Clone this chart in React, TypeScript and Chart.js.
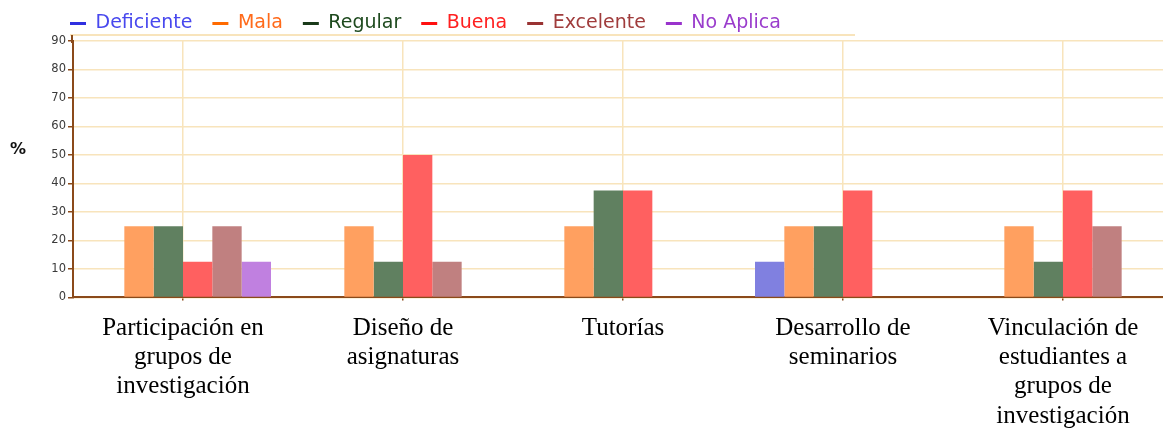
import React, { useEffect, useRef } from "react";
import { Chart, registerables } from "chart.js";

Chart.register(...registerables);

const categories: string[][] = [
  ["Participación en", "grupos de", "investigación"],
  ["Diseño de", "asignaturas"],
  ["Tutorías"],
  ["Desarrollo de", "seminarios"],
  ["Vinculación de", "estudiantes a", "grupos de", "investigación"],
];

const seriesNames = ["Deficiente", "Mala", "Regular", "Buena", "Excelente", "No Aplica"];

const deficiente = [0, 0, 0, 12.5, 0];
const mala = [25, 25, 25, 25, 25];
const regular = [25, 12.5, 37.5, 25, 12.5];
const buena = [12.5, 50, 37.5, 37.5, 37.5];
const excelente = [25, 12.5, 0, 0, 25];
const noAplica = [12.5, 0, 0, 0, 0];

const yMin = 0;
const yMax = 90;
const yStep = 10;

const barColors = ["#8080e0", "#ffa060", "#608060", "#ff6060", "#c08080", "#c080e0"];
const legendLineColors = ["#3030e0", "#ff6a00", "#1a3a1a", "#ff1010", "#993333", "#9933cc"];
const legendTextColors = ["#4848ee", "#ff6a1a", "#1e4a1e", "#ff2020", "#a03c3c", "#9a3ccc"];

const BROWN = "#8b4a1a";
const WHEAT = "#f8e4bc";

export default function App() {
  const ref = useRef<HTMLCanvasElement | null>(null);

  useEffect(() => {
    if (!ref.current) return;
    const values = [deficiente, mala, regular, buena, excelente, noAplica];

    const decor = {
      id: "decor",
      beforeDatasetsDraw(chart: any) {
        const { ctx, chartArea } = chart;
        ctx.save();
        ctx.strokeStyle = WHEAT;
        ctx.lineWidth = 2;
        ctx.beginPath();
        ctx.moveTo(chartArea.left - 3, chartArea.top - 6);
        ctx.lineTo(chartArea.left + 782, chartArea.top - 6);
        ctx.stroke();
        ctx.restore();
      },
      afterDraw(chart: any) {
        const { ctx, chartArea } = chart;
        ctx.save();
        ctx.strokeStyle = BROWN;
        ctx.lineWidth = 2;
        ctx.beginPath();
        ctx.moveTo(chartArea.left - 1, chartArea.top - 6);
        ctx.lineTo(chartArea.left - 1, chartArea.top + 2);
        ctx.stroke();
        ctx.fillStyle = "#111";
        ctx.font = "bold 16px 'DejaVu Sans'";
        ctx.textAlign = "center";
        ctx.textBaseline = "middle";
        ctx.fillText("%", 18, chartArea.top + 109);
        ctx.restore();
      },
    };

    const chart = new Chart(ref.current, {
      type: "bar",
      data: {
        labels: categories,
        datasets: seriesNames.map((name, i) => ({
          label: name,
          data: values[i],
          backgroundColor: barColors[i],
          borderWidth: 0,
          categoryPercentage: 0.8,
          barPercentage: 1.0,
        })),
      },
      options: {
        responsive: false,
        animation: false,
        devicePixelRatio: 1,
        layout: { padding: { top: -6, left: 50, right: 2, bottom: -10 } },
        plugins: {
          tooltip: { enabled: false },
          legend: {
            display: true,
            position: "top",
            align: "start",
            maxHeight: 47,
            labels: {
              usePointStyle: true,
              pointStyleWidth: 16,
              padding: 20,
              font: { family: "DejaVu Sans", size: 19 },
              generateLabels: (c: any) =>
                c.data.datasets.map((ds: any, i: number) => ({
                  text: ds.label,
                  fillStyle: legendLineColors[i],
                  strokeStyle: legendLineColors[i],
                  lineWidth: 3,
                  fontColor: legendTextColors[i],
                  pointStyle: "line",
                  hidden: false,
                  datasetIndex: i,
                })),
            },
          },
        },
        scales: {
          x: {
            grid: {
              offset: false,
              color: WHEAT,
              lineWidth: 1.5,
              tickColor: BROWN,
              tickLength: 3,
              drawOnChartArea: true,
            },
            border: { color: BROWN, width: 2 },
            ticks: {
              color: "#000",
              padding: 13,
              maxRotation: 0,
              autoSkip: false,
              font: { family: "Liberation Serif", size: 25, lineHeight: 1.176 },
            },
          },
          y: {
            min: yMin,
            max: yMax,
            grid: { color: WHEAT, lineWidth: 1.5, tickColor: BROWN, tickLength: 5 },
            border: { color: BROWN, width: 2 },
            afterFit: (s: any) => {
              s.width = 23;
            },
            ticks: {
              stepSize: yStep,
              color: "#3a3a3a",
              padding: 2,
              font: { family: "DejaVu Sans", size: 11.5 },
            },
          },
        },
      },
      plugins: [decor],
    } as any);

    return () => chart.destroy();
  }, []);

  return (
    <div
      style={{
        position: "fixed",
        left: 0,
        top: 0,
        width: 1163,
        height: 434,
        overflow: "hidden",
        background: "#fff",
      }}
    >
      <canvas ref={ref} width={1175} height={434} />
    </div>
  );
}
